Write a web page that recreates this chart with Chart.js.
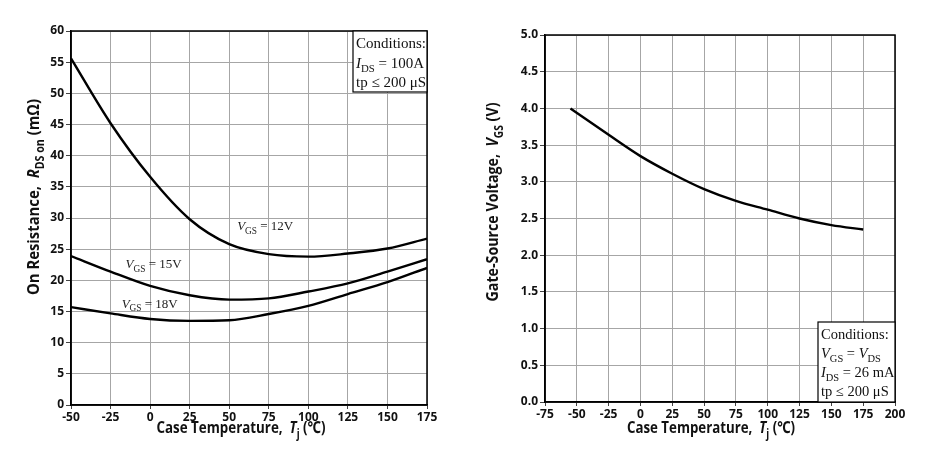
<!DOCTYPE html>
<html><head><meta charset="utf-8">
<script src="https://cdn.jsdelivr.net/npm/chart.js@4.4.1/dist/chart.umd.min.js"></script>
<style>
html,body{margin:0;padding:0;background:#fff;}
#wrap{position:relative;width:931px;height:462px;}
canvas{position:absolute;top:0;}
</style></head>
<body><div id="wrap">
<canvas id="c1" width="465" height="462" style="left:0"></canvas>
<canvas id="c2" width="466" height="462" style="left:465px"></canvas>
</div>
<script>
// ---- data ----
const leftTemps = [-50, -25, 0, 25, 50, 75, 100, 125, 150, 175];
const rds12 = [55.6, 45.2, 36.6, 29.8, 25.8, 24.2, 23.8, 24.3, 25.1, 26.7];
const rds15 = [23.9, 21.4, 19.1, 17.6, 16.9, 17.1, 18.2, 19.5, 21.4, 23.4];
const rds18 = [15.7, 14.7, 13.8, 13.5, 13.6, 14.6, 15.9, 17.8, 19.7, 22.0];
const rightTemps = [-55, -25, 0, 25, 50, 75, 100, 125, 150, 175];
const vgsTh = [4.0, 3.64, 3.35, 3.11, 2.90, 2.74, 2.62, 2.50, 2.41, 2.35];
const seriesNames = ['VGS = 12V', 'VGS = 15V', 'VGS = 18V'];

const pts = (xs, ys) => xs.map((x, i) => ({x, y: ys[i]}));
const SANS = '"Open Sans", "Noto Sans", sans-serif';
const SERIF = '"Liberation Serif", "DejaVu Serif", serif';

// rich text: segments [{t, it, sub}]
function richWidth(ctx, segs, size, bold, family) {
  let w = 0;
  for (const s of segs) {
    const sz = s.sub ? size * 0.72 : size;
    ctx.font = `${s.it ? 'italic ' : ''}${bold ? 'bold ' : ''}${sz}px ${family}`;
    w += ctx.measureText(s.t).width;
  }
  return w;
}
function drawRich(ctx, segs, x, y, size, bold, family, align, targetW) {
  const w = richWidth(ctx, segs, size, bold, family);
  const k = targetW ? targetW / w : 1;
  ctx.save();
  ctx.translate(x, y);
  ctx.scale(k, 1);
  let cx = align === 'center' ? -w / 2 : 0;
  ctx.textBaseline = 'alphabetic';
  ctx.textAlign = 'left';
  for (const s of segs) {
    const sz = s.sub ? size * 0.72 : size;
    ctx.font = `${s.it ? 'italic ' : ''}${bold ? 'bold ' : ''}${sz}px ${family}`;
    ctx.fillText(s.t, cx, (s.sub ? size * 0.28 : 0));
    cx += ctx.measureText(s.t).width;
  }
  ctx.restore();
}

const xTitle = [{t: 'Case Temperature,  '}, {t: 'T', it: true}, {t: 'j', sub: true}, {t: ' (\u2103)'}];

const decor = {
  id: 'decor',
  afterDraw(chart, args, o) {
    const ctx = chart.ctx, a = chart.chartArea;
    ctx.save();
    // frame
    ctx.strokeStyle = '#000'; ctx.lineWidth = 1.5;
    ctx.strokeRect(a.left, a.top, a.right - a.left, a.bottom - a.top);
    ctx.fillStyle = '#111';
    // x title
    drawRich(ctx, xTitle, (a.left + a.right) / 2 + o.xTitleDx, o.xTitleY, 16.5, true, SANS, 'center', o.xTitleW);
    // y title
    ctx.save();
    ctx.translate(o.yTitleX, o.yTitleCy);
    ctx.rotate(-Math.PI / 2);
    drawRich(ctx, o.yTitle, 0, 0, 16.5, true, SANS, 'center', o.yTitleW);
    ctx.restore();
    // curve labels
    ctx.fillStyle = '#222';
    for (const L of (o.labels || [])) {
      const px = chart.scales.x.getPixelForValue(L.x);
      const py = chart.scales.y.getPixelForValue(L.y);
      drawRich(ctx, L.segs, px, py, 13, false, SERIF, 'left');
    }
    // conditions box
    const b = o.box;
    ctx.fillStyle = '#fff';
    ctx.fillRect(b.x, b.y, b.w, b.h);
    ctx.strokeStyle = '#000'; ctx.lineWidth = 1.2;
    ctx.strokeRect(b.x, b.y, b.w, b.h);
    ctx.fillStyle = '#111';
    b.lines.forEach((ln, i) => drawRich(ctx, ln, b.x + 3, b.y + 17 + i * b.lh, b.fs, false, SERIF, 'left'));
    ctx.restore();
  }
};

function makeChart(id, datasets, xs, ys, fixed, opts) {
  return new Chart(document.getElementById(id), {
    type: 'line',
    data: {datasets},
    plugins: [decor],
    options: {
      responsive: false, animation: false, devicePixelRatio: 1,
      layout: {padding: {left: 0, top: fixed.top, right: fixed.right, bottom: 0}},
      plugins: {legend: {display: false}, tooltip: {enabled: false}, decor: opts},
      elements: {point: {radius: 0}, line: {borderWidth: 2.4, borderColor: '#000', cubicInterpolationMode: 'monotone'}},
      scales: {
        x: {
          type: 'linear', min: xs.min, max: xs.max,
          afterFit: s => { s.height = fixed.xh; },
          ticks: {stepSize: 25, autoSkip: false, maxRotation: 0, color: '#111', padding: 1,
                  font: {family: SANS, size: 12, weight: 'bold'}},
          grid: {color: '#a6a6a6', lineWidth: 1, tickLength: 4, tickColor: '#444'},
          border: {color: '#000', width: 1.5}
        },
        y: {
          min: ys.min, max: ys.max,
          afterFit: s => { s.width = fixed.yw; },
          ticks: {stepSize: ys.step, autoSkip: false, color: '#111', padding: 2,
                  callback: v => ys.dec ? Number(v).toFixed(1) : v,
                  font: {family: SANS, size: 12, weight: 'bold'}},
          grid: {color: '#a6a6a6', lineWidth: 1, tickLength: 5, tickColor: '#444'},
          border: {color: '#000', width: 1.5}
        }
      }
    }
  });
}

const ds = (label, ys, xs) => ({label, data: pts(xs, ys), borderColor: '#000', fill: false});

makeChart('c1', [ds(seriesNames[0], rds12, leftTemps), ds(seriesNames[1], rds15, leftTemps), ds(seriesNames[2], rds18, leftTemps)],
  {min: -50, max: 175}, {min: 0, max: 60, step: 5, dec: false},
  {top: 31, right: 38, xh: 57, yw: 71},
  {
    xTitleDx: -8, xTitleY: 433, xTitleW: 169,
    yTitleX: 39, yTitleCy: 197, yTitleW: 196,
    yTitle: [{t: 'On Resistance,  '}, {t: 'R', it: true}, {t: 'DS on', sub: true}, {t: ' (m\u03A9)'}],
    labels: [
      {x: 55, y: 28.0, segs: [{t: 'V', it: true}, {t: 'GS', sub: true}, {t: ' = 12V'}]},
      {x: -15.5, y: 22.0, segs: [{t: 'V', it: true}, {t: 'GS', sub: true}, {t: ' = 15V'}]},
      {x: -18, y: 15.6, segs: [{t: 'V', it: true}, {t: 'GS', sub: true}, {t: ' = 18V'}]}
    ],
    box: {x: 353, y: 31, w: 74, h: 61, fs: 15, lh: 19.5, lines: [
      [{t: 'Conditions:'}],
      [{t: 'I', it: true}, {t: 'DS', sub: true}, {t: ' = 100A'}],
      [{t: 'tp \u2264 200 \u03BCS'}]
    ]}
  });

makeChart('c2', [ds('VGS(th)', vgsTh, rightTemps)],
  {min: -75, max: 200}, {min: 0, max: 5, step: 0.5, dec: true},
  {top: 35, right: 36, xh: 60, yw: 80},
  {
    xTitleDx: -9, xTitleY: 433, xTitleW: 168,
    yTitleX: 33, yTitleCy: 202, yTitleW: 199,
    yTitle: [{t: 'Gate-Source Voltage,  '}, {t: 'V', it: true}, {t: 'GS', sub: true}, {t: ' (V)'}],
    labels: [],
    box: {x: 353, y: 322, w: 77, h: 80, fs: 14.5, lh: 19, lines: [
      [{t: 'Conditions:'}],
      [{t: 'V', it: true}, {t: 'GS', sub: true}, {t: ' = '}, {t: 'V', it: true}, {t: 'DS', sub: true}],
      [{t: 'I', it: true}, {t: 'DS', sub: true}, {t: ' = 26 mA'}],
      [{t: 'tp \u2264 200 \u03BCS'}]
    ]}
  });
</script>
</body></html>
